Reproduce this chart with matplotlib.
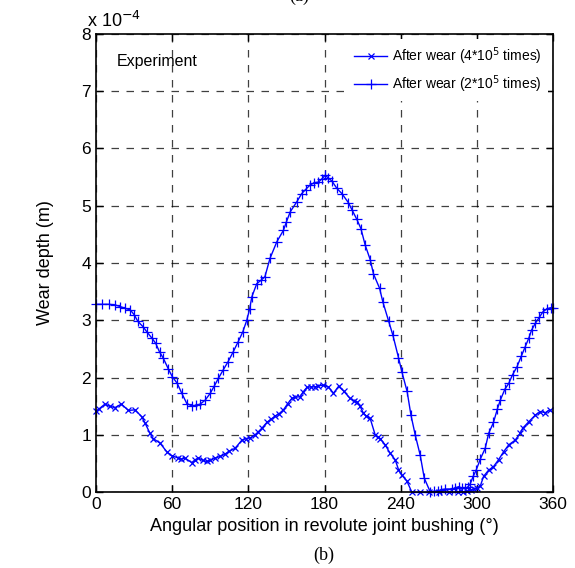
import numpy as np
import matplotlib
matplotlib.use('Agg')
import matplotlib.pyplot as plt

plt.rcParams['font.family'] = ['Liberation Sans', 'DejaVu Sans']

# wear depth after 2*10^5 cycles (upper curve, '+' markers), units 1e-4 m
ang_2e5 = [0, 5, 10, 15, 19, 23, 27, 30, 33, 37, 40, 44, 47, 50, 53, 57, 60, 64, 67.5, 71.5,
           75.4, 79, 82, 86, 90, 93, 96.4, 100, 104, 108, 112, 115.6, 118.7, 121, 122.7, 126.6,
           130, 133, 137, 142.4, 147.6, 150, 152.9, 158.2, 162, 165, 168.6, 172, 175.2, 178,
           180.5, 183, 185.7, 189.7, 193.6, 198.8, 201.5, 205.4, 208.6, 212, 215.9, 218.5,
           223.3, 225.9, 230.4, 233.8, 238.2, 240.9, 245, 248, 251.4, 255.3, 258.5, 263.2,
           266, 269.7, 272, 275, 280.3, 283, 285.5, 288, 290.8, 293, 294.7, 297, 299.4, 302.6,
           306.5, 309.2, 313, 316, 318.4, 322, 325, 328, 331.5, 335, 338, 341, 343, 346, 349,
           352, 355, 358, 360]
wear_2e5 = [3.28, 3.28, 3.28, 3.27, 3.24, 3.21, 3.18, 3.10, 2.98, 2.89, 2.80, 2.69, 2.60, 2.45,
            2.34, 2.15, 2.02, 1.90, 1.73, 1.55, 1.51, 1.52, 1.54, 1.61, 1.73, 1.85, 1.99, 2.13,
            2.28, 2.45, 2.63, 2.80, 3.00, 3.20, 3.41, 3.64, 3.70, 3.76, 4.08, 4.37, 4.57, 4.72,
            4.89, 5.07, 5.21, 5.28, 5.36, 5.40, 5.41, 5.47, 5.53, 5.48, 5.43, 5.30, 5.21, 5.05,
            4.93, 4.76, 4.60, 4.31, 4.06, 3.81, 3.56, 3.32, 2.99, 2.74, 2.35, 2.10, 1.76, 1.35,
            1.00, 0.65, 0.25, 0.01, 0.02, 0.03, 0.05, 0.06, 0.06, 0.08, 0.10, 0.08, 0.07, 0.10,
            0.15, 0.28, 0.39, 0.58, 0.77, 1.03, 1.22, 1.45, 1.61, 1.80, 1.90, 2.05, 2.19, 2.38,
            2.54, 2.70, 2.83, 2.95, 3.05, 3.15, 3.20, 3.22, 3.22]

# wear depth after 4*10^5 cycles (lower curve, 'x' markers)
ang_4e5 = [0, 2, 7, 11, 15, 20, 25.5, 30.7, 36, 38.6, 42.5, 45, 50.4, 55.7, 59.6, 64.9, 67, 70,
           75.4, 78, 80.6, 84, 87.2, 90, 93.8, 98, 101.7, 105, 109.5, 114.8, 118, 121.4, 125,
           127.9, 131, 134.5, 138, 141, 144, 147.6, 151, 154.2, 157, 160.8, 163, 166, 169,
           172.6, 175, 179, 183, 187, 191, 194.9, 200, 203, 205.4, 208, 210.6, 213, 215.9,
           219.9, 222, 223.8, 227.7, 231.7, 235.6, 238.2, 240.9, 244.8, 248.8, 255, 262, 270,
           278, 285, 289, 292, 295, 297.3, 300, 302.6, 305.2, 309.2, 313, 317, 321, 325, 330,
           334, 336, 340.7, 346, 350, 353.8, 357.2]
wear_4e5 = [1.42, 1.45, 1.54, 1.50, 1.48, 1.54, 1.43, 1.44, 1.32, 1.21, 1.03, 0.94, 0.86, 0.71,
            0.64, 0.60, 0.58, 0.60, 0.52, 0.57, 0.60, 0.56, 0.54, 0.56, 0.60, 0.63, 0.67, 0.72,
            0.77, 0.91, 0.94, 0.95, 1.00, 1.06, 1.13, 1.22, 1.28, 1.33, 1.37, 1.44, 1.55, 1.64,
            1.66, 1.67, 1.75, 1.83, 1.84, 1.84, 1.86, 1.87, 1.84, 1.73, 1.85, 1.77, 1.64, 1.60,
            1.58, 1.50, 1.38, 1.33, 1.29, 1.00, 0.97, 0.94, 0.83, 0.68, 0.57, 0.40, 0.30, 0.20,
            0.00, 0.00, 0.00, 0.00, 0.00, 0.00, 0.01, 0.02, 0.04, 0.06, 0.08, 0.11, 0.28, 0.39,
            0.45, 0.57, 0.71, 0.83, 0.91, 1.03, 1.12, 1.23, 1.35, 1.41, 1.39, 1.44]

xticks = [0, 60, 120, 180, 240, 300, 360]
yticks = [0, 1, 2, 3, 4, 5, 6, 7, 8]

fig = plt.figure(figsize=(5.75, 5.68), dpi=100)
ax = fig.add_axes([0.167, 0.133, 0.795, 0.808])

ax.plot(ang_4e5, wear_4e5, color='blue', marker='x', ms=5, lw=1, mew=0.9,
        label='After wear (4*10$^5$ times)', clip_on=False)
ax.plot(ang_2e5, wear_2e5, color='blue', marker='+', ms=7, lw=1, mew=0.9,
        label='After wear (2*10$^5$ times)', clip_on=False)

ax.set_xlim(0, 360)
ax.set_ylim(0, 8)
ax.set_xticks(xticks)
ax.set_yticks(yticks)
ax.tick_params(direction='in', top=True, right=True, length=5, labelsize=12.5, width=1)
ax.grid(True, color='black', ls=(0, (6, 6)), lw=0.9, alpha=0.75)
for s in ax.spines.values():
    s.set_linewidth(1.2)

ax.set_xlabel('Angular position in revolute joint bushing (°)', fontsize=13, labelpad=4)
ax.set_ylabel('Wear depth (m)', fontsize=13, labelpad=20)
ax.text(0.045, 0.93, 'Experiment', transform=ax.transAxes, fontsize=11.5)
leg = ax.legend(loc='upper right', frameon=True, fancybox=False, fontsize=10,
                handlelength=2.4, handletextpad=0.3, borderaxespad=0.4, borderpad=0.45,
                labelspacing=0.45)
leg.get_frame().set_edgecolor('none')
leg.get_frame().set_facecolor('white')
leg.get_frame().set_alpha(1)

fig.text(0.152, 0.952, 'x 10$^{-4}$', fontsize=13)
fig.text(0.563, 0.023, '(b)', fontsize=13, family='Liberation Serif', ha='center', va='center')
fig.text(0.52, 1.006, '(a)', fontsize=13, family='Liberation Serif', ha='center', va='center')

fig.savefig('out.png', dpi=100)
